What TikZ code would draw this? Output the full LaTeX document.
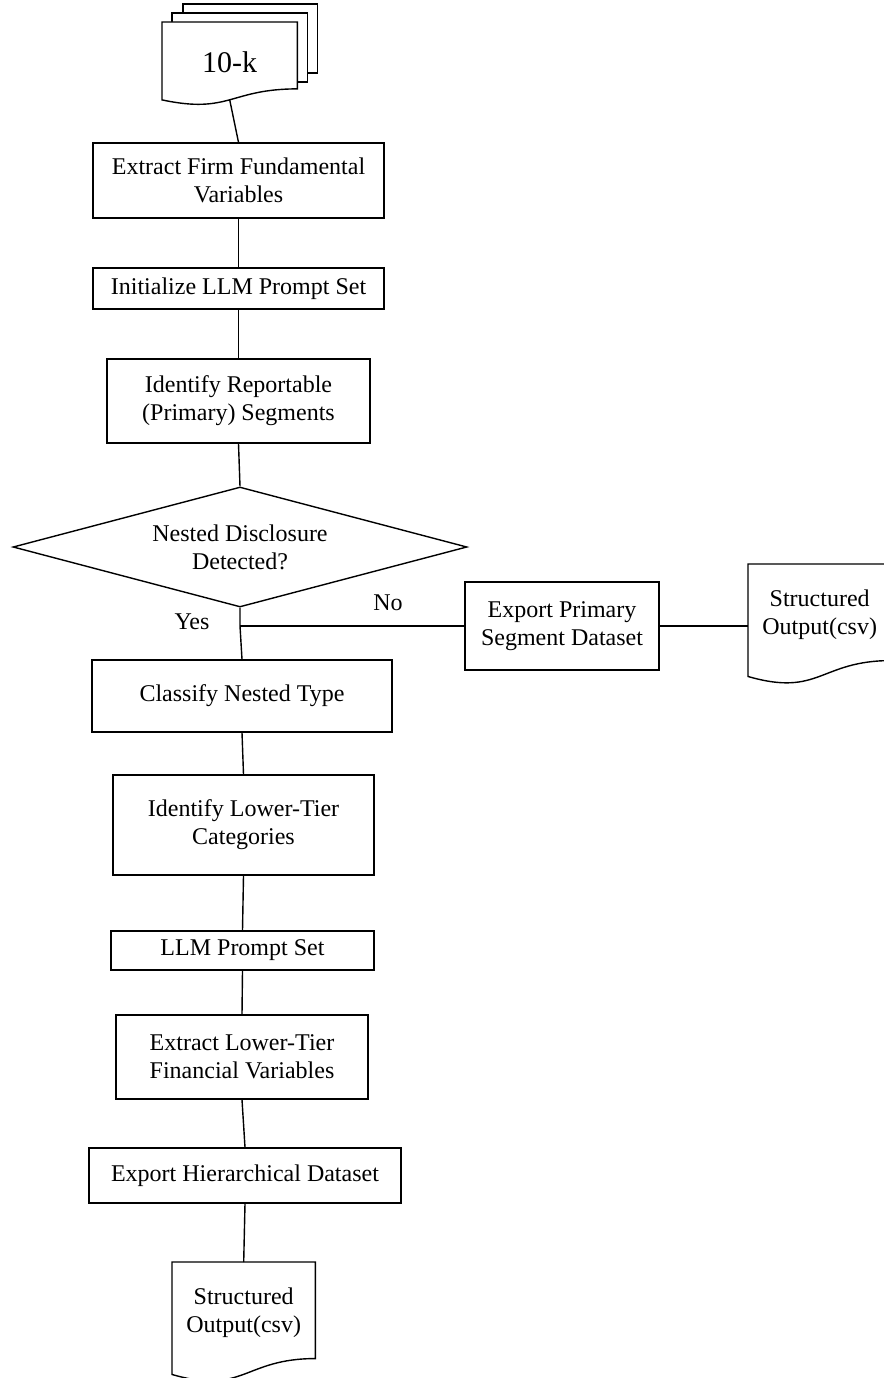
\documentclass[tikz,border=0pt]{standalone}
\usepackage{fontspec}
\setmainfont{Liberation Serif}
\usetikzlibrary{shapes.geometric,calc}
\newcommand\docoutline[1]{%
  \draw[line, fill=white] (#1.north west) -- (#1.north east)
    -- ($(#1.north east)!0.802!(#1.south east)$)
    .. controls ($(#1.north)!0.802!(#1.south)$) and ($(#1.north)!1.107!(#1.south)$)
    .. ($(#1.north west)!0.934!(#1.south west)$) -- cycle;}
\begin{document}
\begin{tikzpicture}[x=1pt,y=-1pt,
  line/.style={draw=black, line width=1.4pt},
  txt/.style={font=\fontsize{24}{28}\selectfont, align=center, inner sep=0pt, text=black},
  box/.style={line, rectangle, inner sep=0pt, txt},
  dec/.style={line, diamond, aspect=3.78, inner sep=0pt, txt},
  docframe/.style={rectangle, inner sep=0pt, draw=none, anchor=north west}]
\useasboundingbox[fill=white] (0,0) rectangle (883,1378);

% multi-document 10-k
\node[docframe, minimum width=135pt, minimum height=83pt] (d0) at (162,22) {};
\draw[line] ($(d0.north west)+(21,-9)$) -- ($(d0.north west)+(21,-18)$) -- ($(d0.north east)+(20,-18)$) -- ($(d0.north east)+(20,51)$) -- ($(d0.north east)+(10,51)$);
\draw[line] ($(d0.north west)+(10,0)$) -- ($(d0.north west)+(10,-9)$) -- ($(d0.north east)+(10,-9)$) -- ($(d0.north east)+(10,60)$) -- ($(d0.north east)+(0,60)$);
\docoutline{d0}
\node[font=\fontsize{30}{34}\selectfont, inner sep=0pt] (tenk) at ($(d0.north)!0.48!(d0.south)$) {10-k};
\coordinate (d0b) at ($(d0.north)!0.933!(d0.south)$);

% main column
\node[box, minimum width=291pt, minimum height=75pt] (b1) at (238.5,180.5) {Extract Firm Fundamental\\Variables};
\node[box, minimum width=291pt, minimum height=41pt] (b2) at (238.5,288.5) {Initialize LLM Prompt Set};
\node[box, minimum width=263pt, minimum height=84pt] (b3) at (238.5,401) {Identify Reportable\\(Primary) Segments};
\node[dec, minimum width=454pt, minimum height=120pt] (dia) at (240,547) {Nested Disclosure\\Detected?};
\node[box, minimum width=300pt, minimum height=72pt] (b5) at (242,696) {Classify Nested Type};
\node[box, minimum width=261pt, minimum height=100pt] (b6) at (243.5,825) {Identify Lower-Tier\\Categories};
\node[box, minimum width=263pt, minimum height=39pt] (b7) at (242.5,950.5) {LLM Prompt Set};
\node[box, minimum width=252pt, minimum height=84pt] (b8) at (242,1057) {Extract Lower-Tier\\Financial Variables};
\node[box, minimum width=312pt, minimum height=55pt] (b9) at (245,1175.5) {Export Hierarchical Dataset};

% right branch
\node[box, minimum width=194pt, minimum height=88pt] (b10) at (562,626) {Export Primary\\Segment Dataset};
\node[docframe, minimum width=143pt, minimum height=120pt] (d2) at (748,564) {};
\docoutline{d2}
\node[txt] (d2t) at ($(d2.north)!0.42!(d2.south)$) {Structured\\Output(csv)};

% bottom document
\node[docframe, minimum width=143pt, minimum height=120pt] (d3) at (172,1262) {};
\docoutline{d3}
\node[txt] (d3t) at ($(d3.north)!0.42!(d3.south)$) {Structured\\Output(csv)};

% connectors
\coordinate (j) at (dia.south |- b10.west);
\draw[line] (d0b) -- (b1.north);
\draw[line] (b1.south) -- (b2.north);
\draw[line] (b2.south) -- (b3.north);
\draw[line] (b3.south) -- (dia.north);
\draw[line] (dia.south) -- (j) -- (b5.north);
\draw[line] (j) -- (b10.west);
\draw[line] (b10.east) -- (b10.east -| d2.west);
\draw[line] (b5.south) -- (b6.north);
\draw[line] (b6.south) -- (b7.north);
\draw[line] (b7.south) -- (b8.north);
\draw[line] (b8.south) -- (b9.north);
\draw[line] (b9.south) -- (d3.north);

% labels
\node[txt] (no) at (388,603) {No};
\node[txt] (yes) at (192,622) {Yes};
\end{tikzpicture}
\end{document}
